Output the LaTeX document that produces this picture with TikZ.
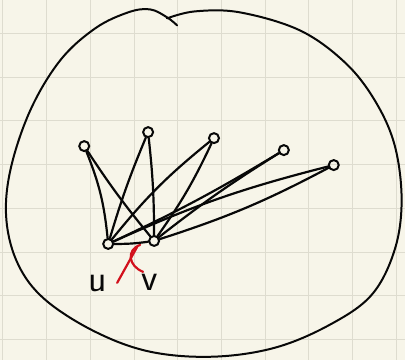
\documentclass[tikz,border=0pt]{standalone}
\definecolor{paper}{HTML}{F7F5E9}
\definecolor{gridln}{HTML}{DEDCCF}
\definecolor{ink}{HTML}{080808}
\definecolor{redpen}{HTML}{D2101C}

\begin{document}
\begin{tikzpicture}[x=1pt,y=-1pt,
  vtx/.style={circle,draw=ink,line width=2pt,minimum size=10pt,inner sep=0pt},
  edge/.style={ink,line width=2.2pt,line cap=round},
  lbl/.style={font=\sffamily\fontsize{38}{38}\selectfont,text=ink,inner sep=0pt},
  cut/.style={redpen,line width=2.2pt,line cap=round}]
  \fill[paper] (0,0) rectangle (405,360);

  % ===== squared paper =====
  \foreach \i in {0,...,9} \draw[gridln,line width=0.8pt] ({2.5+43.8*\i},0) -- ++(0,360);
  \foreach \j in {0,...,7} \draw[gridln,line width=0.8pt] (0,{33+43.8*\j}) -- ++(405,0);

  % ===== outer region (hand drawn) =====
  \draw[edge,line width=2pt] plot[smooth,tension=0.6] coordinates {
    (177,25) (167,17) (150,9) (128,12) (95,28) (60,60) (30,110) (10,170)
    (6,220) (18,265) (45,300) (95,332) (150,352) (213,357) (275,348)
    (330,325) (372,295) (395,250) (402,200) (395,145) (375,100) (345,62)
    (300,30) (240,12) (195,11) (167,18)};

  % ===== vertices =====
  \node[vtx] (a) at (84,146) {};
  \node[vtx] (b) at (148,132) {};
  \node[vtx] (c) at (214,138) {};
  \node[vtx] (d) at (284,150) {};
  \node[vtx] (e) at (334,165) {};
  \node[vtx] (u) at (108,244) {};
  \node[vtx] (v) at (154,241) {};
  \node[lbl] (ulbl) at (97,284) {u};
  \node[lbl] (vlbl) at (150,282) {v};

  % ===== edges =====
  \draw[edge] (a) to[bend left=8] (u);
  \draw[edge] (a) to[bend right=3] (v);
  \draw[edge] (b) to[bend right=3] (u);
  \draw[edge] (b) to[bend left=3] (v);
  \draw[edge] (c) to[bend right=6] (u);
  \draw[edge] (c) to[bend left=5] (v);
  \draw[edge] (d) to[bend left=3] (u);
  \draw[edge] (d) to[bend right=3] (v);
  \draw[edge] (e) to[bend right=5] (u);
  \draw[edge] (e) to[bend left=5] (v);
  \draw[edge] (u) to[bend right=4] (v);

  % ===== removed edge =====
  \coordinate (x1) at (117,283);
  \coordinate (x2) at (137,247);
  \coordinate (x3) at (140,245);
  \coordinate (x4) at (143,272);
  \draw[cut] (x1) -- (x2);
  \draw[cut] (x3) .. controls (126,250) and (128,266) .. (x4);
\end{tikzpicture}
\end{document}
